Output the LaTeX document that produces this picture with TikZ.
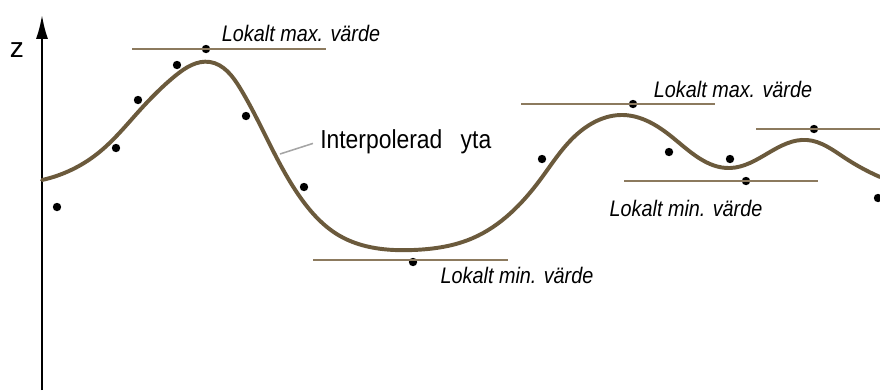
\documentclass[tikz,border=0pt]{standalone}
\usepackage{fontspec}
\setmainfont{Liberation Sans}
\newfontfamily\labfont[FakeStretch=0.88]{Liberation Sans}
\usetikzlibrary{arrows.meta, hobby}
\definecolor{curvebrown}{RGB}{107,90,60}
\definecolor{linebrown}{RGB}{140,122,94}
\definecolor{leadergray}{RGB}{165,165,165}

\tikzset{
  dot/.style={circle, fill=black, inner sep=0pt, minimum size=0.21cm},
  extline/.style={linebrown, line width=1.3pt},
  extlabel/.style={font=\labfont\itshape\fontsize{16}{19}\selectfont, inner sep=0pt},
  surflabel/.style={font=\labfont\fontsize{18.5}{22}\selectfont, inner sep=0pt},
}

\begin{document}
\begin{tikzpicture}[x=0.025cm, y=-0.025cm]
% frame (pixel units, y downwards)
\useasboundingbox (0,0) rectangle (880,390);

% z axis
\coordinate (axbot) at (42,390);
\coordinate (axtop) at (42,15);
\draw[line width=1.4pt, -{Latex[length=17pt, width=8.5pt]}] (axbot) -- (axtop);
\node[font=\fontsize{20}{24}\selectfont, inner sep=0pt] (zlab) at (17,50) {z};

% interpolated surface
\draw[curvebrown, line width=2.8pt, line cap=round, use Hobby shortcut]
  (42,180) .. (97,154) .. (140,110) .. (175,76) .. (210,62) .. (240,88)
  .. (300,197) .. (340,236) .. (413,250) .. (473,238)
  .. (540,180) .. (575,136) .. (623,115) .. (672,137)
  .. (730,168) .. (807,140) .. (845,158) .. (880,177);

% sample points
\foreach \name/\px/\py in {d1/57/207, d2/116/148, d3/138/100, d4/177/65,
    d5/206/49, d6/246/116, d7/304/187, d8/413/262, d9/542/159,
    d10/633/104, d11/669/152, d12/730/159, d13/746/181, d14/814/129,
    d15/878/198} {
  \node[dot] (\name) at (\px,\py) {};
}

% local extreme lines
\coordinate (mx1a) at (132,49);  \coordinate (mx1b) at (326,49);
\coordinate (mx2a) at (521,104); \coordinate (mx2b) at (715,104);
\coordinate (mx3a) at (756,129); \coordinate (mx3b) at (880,129);
\coordinate (mn1a) at (313,260); \coordinate (mn1b) at (508,260);
\coordinate (mn2a) at (624,181); \coordinate (mn2b) at (818,181);
\foreach \a/\b in {mx1a/mx1b, mx2a/mx2b, mx3a/mx3b, mn1a/mn1b, mn2a/mn2b}
  \draw[extline] (\a) -- (\b);

% labels
\node[extlabel] (max1) at (301,33) {Lokalt max. värde};
\node[extlabel] (max2) at (733,89) {Lokalt max. värde};
\node[extlabel] (min1) at (517,275) {Lokalt min. värde};
\node[extlabel] (min2) at (686,208) {Lokalt min. värde};
\node[surflabel, anchor=west] (surf) at (320,142) {Interpolerad\hspace{13pt}yta};

% leader to the surface
\coordinate (onsurf) at (280,154);
\draw[leadergray, line width=1.1pt] (onsurf) -- ([xshift=-5pt, yshift=-1pt]surf.west);
\end{tikzpicture}
\end{document}
